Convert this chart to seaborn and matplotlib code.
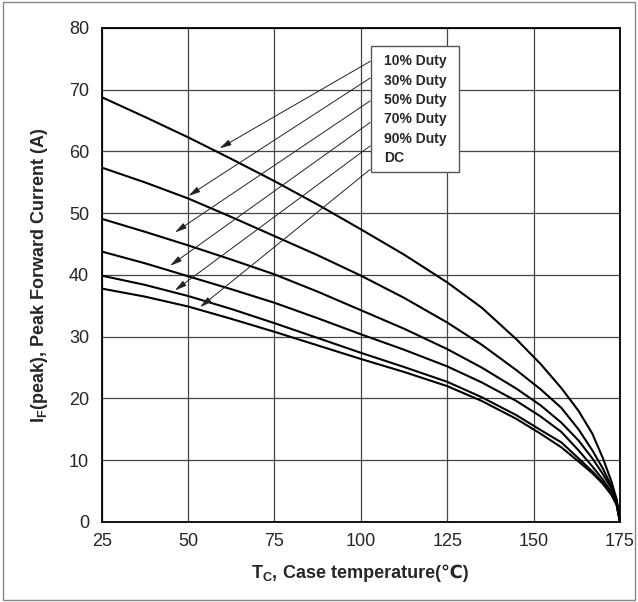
import matplotlib
matplotlib.use("Agg")
import matplotlib.pyplot as plt
import numpy as np
import pandas as pd
import seaborn as sns
from matplotlib.patches import Rectangle
from matplotlib.offsetbox import TextArea, HPacker, AnchoredOffsetbox

# Case temperature points (deg C)
temps = [25, 37.5, 50, 62.5, 75, 87.5, 100, 112.5, 125, 135, 145, 152, 158, 163, 167, 170, 172.5, 174, 175]

# Peak forward current (A) for each duty cycle
duty_10 = [68.8, 65.6, 62.3, 58.8, 55.2, 51.4, 47.4, 43.3, 38.8, 34.7, 29.6, 25.6, 21.7, 18.0, 14.3, 10.4, 6.6, 3.7, 0]
duty_30 = [57.4, 55.0, 52.4, 49.4, 46.3, 43.2, 39.9, 36.3, 32.3, 28.7, 24.6, 21.5, 18.5, 15.0, 11.6, 8.7, 5.8, 3.6, 0]
duty_50 = [49.1, 47.0, 44.8, 42.5, 40.1, 37.3, 34.3, 31.3, 28.0, 25.0, 21.6, 18.9, 16.1, 13.2, 10.3, 7.8, 5.4, 3.4, 0]
duty_70 = [43.8, 41.9, 39.8, 37.7, 35.5, 33.0, 30.4, 27.9, 25.2, 22.6, 19.6, 17.1, 14.6, 11.6, 9.0, 6.9, 4.8, 3.0, 0]
duty_90 = [39.9, 38.4, 36.6, 34.5, 32.2, 29.8, 27.4, 25.1, 22.7, 20.2, 17.3, 14.9, 12.9, 10.3, 8.2, 6.4, 4.5, 2.9, 0]
duty_dc = [37.8, 36.5, 34.9, 32.9, 30.8, 28.6, 26.4, 24.3, 22.0, 19.6, 16.7, 14.3, 12.1, 9.8, 7.9, 6.2, 4.4, 2.8, 0]

labels = ["10% Duty", "30% Duty", "50% Duty", "70% Duty", "90% Duty", "DC"]
series = [duty_10, duty_30, duty_50, duty_70, duty_90, duty_dc]

# arrow tips (on curves) and tails (box edge)
tip_x = [59.1, 50.1, 46.2, 44.8, 46.2, 53.5]
tip_y = [60.5, 52.8, 46.9, 41.5, 37.5, 34.8]
tail_y = [74.6, 71.9, 68.2, 64.7, 60.9, 57.1]
tail_x = 102.7
label_y = [74.6, 71.4, 68.3, 65.2, 62.0, 58.9]

df = pd.DataFrame({
    "temp": temps * len(labels),
    "current": np.concatenate(series),
    "duty": np.repeat(labels, len(temps)),
})

sns.set_style("white")
plt.rcParams["font.family"] = ["Liberation Sans", "DejaVu Sans", "Noto Sans CJK SC"]
plt.rcParams["mathtext.fontset"] = "custom"
plt.rcParams["mathtext.rm"] = "Liberation Sans"
plt.rcParams["mathtext.bf"] = "Liberation Sans:bold"

fig = plt.figure(figsize=(6.38, 6.02), dpi=100)
ax = fig.add_axes([0.1594, 0.1329, 0.8124, 0.8206])

sns.lineplot(data=df, x="temp", y="current", hue="duty", palette=["black"] * 6,
             estimator=None, legend=False, linewidth=1.5, ax=ax, zorder=3)

ax.set_xlim(25, 175)
ax.set_ylim(0, 80)
ax.set_xticks([25, 50, 75, 100, 125, 150, 175])
ax.set_yticks(range(0, 81, 10))
ax.grid(True, color="#444444", linewidth=0.9)
ax.set_axisbelow(True)
ax.tick_params(length=0, labelsize=13)
ax.tick_params(axis="x", pad=8)
ax.tick_params(axis="y", pad=9)
for s in ax.spines.values():
    s.set_color("black")
    s.set_linewidth(1.3)

ax.set_xlabel("")
ax.set_ylabel(r"$\mathbf{I_F}$(peak), Peak Forward Current (A)", fontsize=13, fontweight="bold", labelpad=14)

# x label: mathtext part and plain part side by side (plain part needs font fallback for ℃)
lab_props = dict(fontsize=13, fontweight="bold")
xl = HPacker(children=[TextArea(r"$\mathbf{T_C}$,", textprops=lab_props),
                       TextArea(" Case temperature(℃)", textprops=lab_props)],
             align="baseline", pad=0, sep=0)
fig.add_artist(AnchoredOffsetbox(loc="center", child=xl, bbox_to_anchor=(360 / 638, 1 - 573 / 602),
                                 bbox_transform=fig.transFigure, frameon=False, pad=0, borderpad=0))

# label box
ax.add_patch(Rectangle((102.9, 56.6), 25.6, 20.5, facecolor="white", edgecolor="#555555",
                       linewidth=1.0, zorder=4))
for lab, ly in zip(labels, label_y):
    ax.text(106.6, ly, lab, fontsize=10, fontweight="bold", va="center", ha="left", zorder=5)

for tx, ty, sy in zip(tip_x, tip_y, tail_y):
    ax.annotate("", xy=(tx, ty), xytext=(tail_x, sy),
                arrowprops=dict(arrowstyle="-|>,head_length=0.7,head_width=0.18",
                                color="#222222", lw=0.7, shrinkA=0, shrinkB=0),
                zorder=4)

fig.patches.append(Rectangle((0.004, 0.004), 0.992, 0.992, transform=fig.transFigure,
                             fill=False, edgecolor="#888888", linewidth=1.0))

fig.savefig("out.png", dpi=100)
